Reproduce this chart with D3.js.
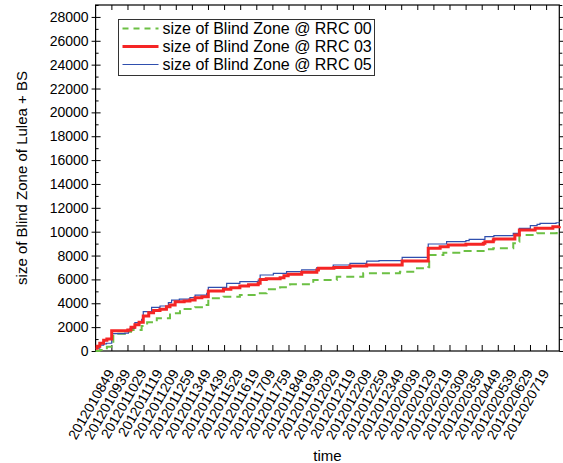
<!DOCTYPE html>
<html>
<head>
<meta charset="utf-8">
<script src="https://cdn.jsdelivr.net/npm/d3@7"></script>
<style>
  body { margin: 0; background: #fff; }
  svg { font-family: 'Liberation Sans', Arial, sans-serif; }
</style>
</head>
<body>
<script>
// minutes after 08:00 on day 1 -> size of blind zone
const rrc00 = [
  [0, 0], [13, 80], [35, 360], [55, 1450], [91, 1620], [110, 1760], [143, 2100],
  [160, 2400], [190, 2740], [231, 3160], [262, 3520], [309, 3660], [345, 3860],
  [350, 4420], [397, 4550], [448, 4690], [500, 4840], [531, 5170], [573, 5340],
  [604, 5590], [676, 5950], [749, 6230], [831, 6510], [945, 6650], [998, 6930],
  [1033, 7010], [1036, 8050], [1080, 8240], [1142, 8380], [1215, 8520], [1235, 8610],
  [1297, 9030], [1313, 9160], [1316, 9720], [1371, 9860], [1432, 10000], [1440, 10000]
];
const rrc03 = [
  [0, 230], [5, 400], [13, 650], [25, 900], [35, 1000], [50, 1700], [100, 1750],
  [110, 2000], [122, 2200], [135, 2400], [148, 2930], [165, 3200], [180, 3400],
  [200, 3500], [220, 3700], [231, 3860], [247, 4130], [275, 4200], [293, 4270],
  [309, 4470], [330, 4550], [350, 5030], [397, 5170], [420, 5300], [448, 5450],
  [475, 5550], [505, 5670], [511, 6000], [530, 6050], [573, 6140], [585, 6300],
  [598, 6430], [640, 6600], [687, 6790], [692, 6930], [740, 7000], [790, 7120],
  [842, 7210], [952, 7540], [1033, 8610], [1070, 8740], [1095, 8890], [1150, 8950],
  [1204, 9030], [1209, 9160], [1235, 9300], [1237, 9390], [1302, 9720], [1316, 10140],
  [1365, 10280], [1420, 10420], [1440, 10450]
];
const rrc05 = [
  [0, 230], [13, 500], [25, 600], [34, 650], [50, 1450], [91, 1500], [102, 1700],
  [107, 1900], [122, 2370], [143, 2650], [148, 3300], [174, 3660], [200, 3770],
  [226, 4050], [236, 4270], [260, 4350], [293, 4470], [309, 4690], [345, 4840],
  [350, 5340], [407, 5670], [448, 5810], [505, 5950], [511, 6370], [552, 6510],
  [593, 6650], [640, 6800], [687, 7000], [738, 7210], [790, 7350], [842, 7540],
  [880, 7570], [952, 7850], [1033, 8970], [1090, 9160], [1150, 9250], [1160, 9360],
  [1209, 9580], [1237, 9670], [1297, 9860], [1316, 10280], [1350, 10500],
  [1371, 10620], [1380, 10700], [1430, 10750], [1440, 10780]
];

const seriesNames = ['size of Blind Zone @ RRC 00', 'size of Blind Zone @ RRC 03', 'size of Blind Zone @ RRC 05'];
const timeLabels = [
  '2012010849', '2012010939', '2012011029', '2012011119', '2012011209', '2012011259',
  '2012011349', '2012011439', '2012011529', '2012011619', '2012011709', '2012011759',
  '2012011849', '2012011939', '2012012029', '2012012119', '2012012209', '2012012259',
  '2012012349', '2012020039', '2012020129', '2012020219', '2012020309', '2012020359',
  '2012020449', '2012020539', '2012020629', '2012020719'
];
const yTicks = [0, 2000, 4000, 6000, 8000, 10000, 12000, 14000, 16000, 18000, 20000, 22000, 24000, 26000, 28000];

const width = 563;
const height = 463;
const margin = { top: 5, right: 3.7, bottom: 112, left: 95.6 };

// label -> minutes after 08:00 of day 1
const labelToMinutes = label => {
  const day = +label.slice(4, 6);
  const hh = +label.slice(6, 8);
  const mm = +label.slice(8, 10);
  return (day - 1) * 1440 + hh * 60 + mm - 480;
};

const svg = d3.select('body')
  .append('svg')
  .attr('width', width)
  .attr('height', height);

const x = d3.scaleLinear()
  .domain([0, 1440])
  .range([margin.left, width - margin.right]);

const y = d3.scaleLinear()
  .domain([0, 29000])
  .range([height - margin.bottom, margin.top]);

const xTicks = timeLabels.map(labelToMinutes);
const yMinor = yTicks.map(d => d + 1000);

// frame
svg.append('rect')
  .attr('x', x(0))
  .attr('y', y(29000))
  .attr('width', x(1440) - x(0))
  .attr('height', y(0) - y(29000))
  .attr('fill', 'none')
  .attr('stroke', '#000')
  .attr('stroke-width', 1.2);

const axisStyle = g => {
  g.select('.domain').remove();
  g.selectAll('.tick line').attr('stroke', '#000').attr('stroke-width', 1);
};

// bottom axis, ticks pointing in, labels rotated
const xAxis = svg.append('g')
  .attr('transform', `translate(0,${ y(0) })`)
  .call(d3.axisBottom(x).tickValues(xTicks).tickSizeInner(-6).tickSizeOuter(0).tickFormat((d, i) => timeLabels[i]))
  .call(axisStyle);

xAxis.selectAll('.tick text')
  .attr('font-size', 14)
  .attr('fill', '#000')
  .attr('text-anchor', 'end')
  .attr('y', 0)
  .attr('dy', 0)
  .attr('transform', 'translate(3,22) rotate(-60)');

// top axis ticks
svg.append('g')
  .attr('transform', `translate(0,${ y(29000) })`)
  .call(d3.axisTop(x).tickValues(xTicks).tickSizeInner(-5).tickSizeOuter(0).tickFormat(''))
  .call(axisStyle);

// left axis, major ticks cross
const yAxis = svg.append('g')
  .attr('transform', `translate(${ x(0) },0)`)
  .call(d3.axisLeft(y).tickValues(yTicks).tickSizeInner(4).tickSizeOuter(0).tickPadding(3).tickFormat(d3.format('d')))
  .call(axisStyle);

yAxis.selectAll('.tick line').attr('x2', 5).attr('x1', -4);
yAxis.selectAll('.tick text')
  .attr('font-size', 14)
  .attr('fill', '#000');

svg.append('g')
  .attr('transform', `translate(${ x(0) },0)`)
  .call(d3.axisRight(y).tickValues(yMinor).tickSizeInner(3).tickSizeOuter(0).tickFormat(''))
  .call(axisStyle);

// right axis ticks pointing in
svg.append('g')
  .attr('transform', `translate(${ x(1440) },0)`)
  .call(d3.axisLeft(y).tickValues(yTicks).tickSizeInner(-6).tickSizeOuter(0).tickFormat(''))
  .call(axisStyle);

svg.append('g')
  .attr('transform', `translate(${ x(1440) },0)`)
  .call(d3.axisLeft(y).tickValues(yMinor).tickSizeInner(-3).tickSizeOuter(0).tickFormat(''))
  .call(axisStyle);

// axis titles
svg.append('text')
  .attr('transform', `translate(27,${ (y(0) + y(29000)) / 2 }) rotate(-90)`)
  .attr('text-anchor', 'middle')
  .attr('font-size', 15)
  .text('size of Blind Zone of Lulea + BS');

svg.append('text')
  .attr('x', (x(0) + x(1440)) / 2)
  .attr('y', 461)
  .attr('text-anchor', 'middle')
  .attr('font-size', 15)
  .text('time');

// lines
const line = d3.line()
  .x(d => x(d[0]))
  .y(d => y(d[1]))
  .curve(d3.curveStepAfter);

const styles = [
  { color: '#6cc044', width: 2, dash: '8,5' },
  { color: '#f52525', width: 3, dash: null },
  { color: '#2f4fae', width: 1.2, dash: null }
];

const plot = svg.append('g');

[rrc00, rrc05, rrc03].forEach(data => {
  const s = styles[[rrc00, rrc03, rrc05].indexOf(data)];
  plot.append('path')
    .datum(data)
    .attr('fill', 'none')
    .attr('stroke', s.color)
    .attr('stroke-width', s.width)
    .attr('stroke-dasharray', s.dash)
    .attr('d', line);
});

// legend
const legend = svg.append('g').attr('transform', 'translate(118.5,19.5)');

legend.append('rect')
  .attr('width', 256)
  .attr('height', 56)
  .attr('fill', '#fff')
  .attr('stroke', '#333')
  .attr('stroke-width', 1);

seriesNames.forEach((name, i) => {
  const rowY = 9 + i * 18;
  legend.append('line')
    .attr('x1', 4)
    .attr('x2', 40)
    .attr('y1', rowY)
    .attr('y2', rowY)
    .attr('stroke', styles[i].color)
    .attr('stroke-width', styles[i].width)
    .attr('stroke-dasharray', styles[i].dash ? '6,5' : null);

  legend.append('text')
    .attr('x', 44)
    .attr('y', rowY)
    .attr('dy', '0.35em')
    .attr('font-size', 16)
    .text(name);
});
</script>
</body>
</html>
